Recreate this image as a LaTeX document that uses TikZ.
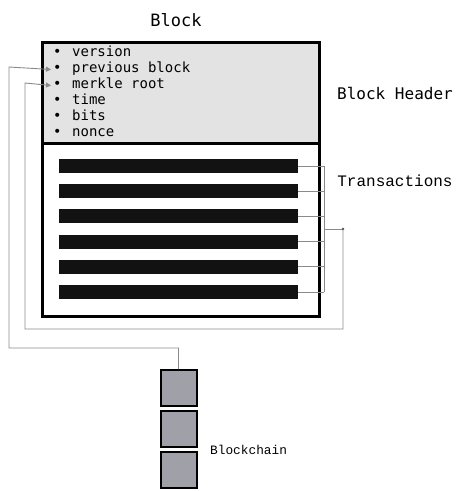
\documentclass[tikz,border=0pt]{standalone}
\usepackage{fontspec}
\setmonofont{DejaVu Sans Mono}
\newfontfamily\thinmono{Liberation Mono}
\usepackage{xcolor}
\usetikzlibrary{positioning}
\usetikzlibrary{arrows.meta}
\definecolor{headfill}{HTML}{E3E3E3}
\definecolor{chainfill}{HTML}{A0A0A8}
\definecolor{linkgray}{HTML}{8A8A8A}

\begin{document}
\begin{tikzpicture}[x=1pt,y=-1pt,font=\ttfamily,
  frame/.style={draw,line width=2.6pt,inner sep=0pt,anchor=north west,minimum width=277pt},
  field/.style={anchor=west,inner sep=0pt,text height=9.5pt,text depth=3pt,
    font=\ttfamily\fontsize{14}{15}\selectfont},
  bar/.style={fill=black!93,inner sep=0pt,minimum width=239pt,minimum height=14pt},
  link/.style={draw=linkgray,line width=0.9pt},
  arr/.style={link,-{Triangle[length=5pt,width=5pt]}},
  chain/.style={draw,fill=chainfill,line width=2pt,inner sep=0pt,minimum size=36pt},
  label/.style={font=\ttfamily\fontsize{16}{18}\selectfont}]
\useasboundingbox (0,0) rectangle (461,491);

% block frame
\node[frame,fill=headfill,minimum height=101pt] (head) at (41,41) {};
\node[frame,minimum height=173pt] (body) at (41,142) {};
\node[font=\ttfamily\fontsize{17}{19}\selectfont] (title) at (176,20) {Block};
\node[label] (headlbl) at (395,93) {Block Header};
\node[label,font=\thinmono\fontsize{16}{18}\selectfont] (txlbl) at (395,181) {Transactions};

% header fields
\foreach \t [count=\i] in {version,previous block,merkle root,time,bits,nonce}
  \node[field] (f\i) at (53,37.5+16*\i) {\makebox[19pt][l]{\textbullet}\t};

% transactions
\foreach \i in {1,...,6} {
  \node[bar] (tx\i) at (178.5,166+25.2*\i-25.2) {};
  \draw[link] (tx\i.east) -- (324,166+25.2*\i-25.2);
}
\coordinate (brtop) at (324,166);
\coordinate (brbot) at (324,292);
\coordinate (stem) at (343,229);
\draw[link] (brtop) -- (brbot);
\draw[link] (324,229) -- (stem);
\fill[black!70] (stem) circle (1.3pt);

% blockchain
\node[chain] (b1) at (178.5,388) {};
\node[chain] (b2) at (178.5,429) {};
\node[chain] (b3) at (178.5,470) {};
\node[anchor=west,inner sep=0pt,font=\thinmono\fontsize{12.8}{14}\selectfont] (chainlbl) at (210,450) {Blockchain};

% links back into the header
\draw[arr] (stem) -- (343,329) -- (25,329) -- (25,83) -- ([xshift=-2pt]f3.west);
\draw[arr] (b1.north) -- (178.5,348) -- (9,348) -- (9,67) -- ([xshift=-2pt]f2.west);
\end{tikzpicture}
\end{document}
